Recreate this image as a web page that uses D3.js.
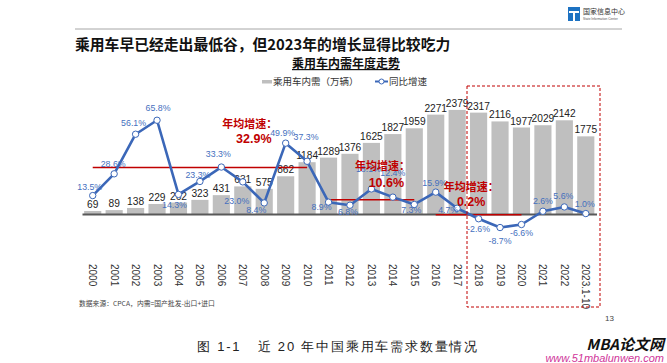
<!DOCTYPE html>
<meta charset="utf-8">
<script src="https://d3js.org/d3.v7.min.js"></script>
<style>
  body { margin: 0; background: #fff; }
  svg text { font-family: "Liberation Sans", Arial, sans-serif; }
  svg .cjk { font-family: "Noto Sans CJK SC", sans-serif; }
</style>
<div id="chart"></div>
<script>

// data
const years = ["2000","2001","2002","2003","2004","2005","2006","2007","2008","2009","2010","2011",
  "2012","2013","2014","2015","2016","2017","2018","2019","2020","2021","2022","2023.1-10"];
const demand = [69,89,138,229,262,323,431,631,575,862,1184,1289,1376,1625,1827,1959,2271,2379,2317,2116,1977,2029,2142,1775];
const growth = [13.5,28.6,56.1,65.8,14.3,23.3,33.3,23.0,8.4,49.9,37.3,8.9,6.8,18.1,12.4,7.3,15.9,4.7,-2.6,-8.7,-6.6,2.6,5.6,1.0];

// average growth per period
const avgFrom = ["2000","2011","2016"];
const avgTo = ["2010","2015","2020"];
const avgRate = [32.9,10.6,0.2];

// where each growth label sits relative to its point [dx, dy]
const labelNudge = [[-3,-6],[-1,-7],[-2,-8],[1,-9],[-4,14],[-2,-3],[-3,-10],[-6,22],[-8,10],[-3,-7],[-1,-21],
  [-7,8],[-2,10],[-3,-17],[0,-21],[-3,9],[-1,-6],[-9,5],[0,13],[0,16],[0,11],[0,-7],[-1,-8],[-1,-7]];

const W = 667, H = 363;
const svg = d3.select("#chart").append("svg")
    .attr("width", W).attr("height", H);

const blue = "#3b67b8", red = "#c00000";

// header
const logo = svg.append("g").attr("transform", "translate(568,7)");
logo.append("rect").attr("width", 12).attr("height", 14).attr("fill", "#1d72c2");
logo.append("rect").attr("x", 1).attr("y", 4).attr("width", 10).attr("height", 2).attr("fill", "#fff");
logo.append("rect").attr("x", 5).attr("y", 6).attr("width", 2).attr("height", 8).attr("fill", "#fff");
logo.append("text").attr("class", "cjk").attr("x", 15).attr("y", 7)
    .attr("font-size", 7).attr("fill", "#333").text("国家信息中心");
logo.append("text").attr("x", 15).attr("y", 13)
    .attr("font-size", 3.2).attr("fill", "#555").text("State Information Center");

svg.append("line").attr("x1", 75).attr("x2", 622).attr("y1", 29).attr("y2", 29)
    .attr("stroke", "#a6a6a6").attr("stroke-width", 1);

svg.append("text").attr("class", "cjk")
    .attr("x", 75).attr("y", 50)
    .attr("font-size", 14.8).attr("font-weight", 700).attr("fill", "#111")
    .text("乘用车早已经走出最低谷，但2023年的增长显得比较吃力");

svg.append("text").attr("class", "cjk")
    .attr("x", 346).attr("y", 68).attr("text-anchor", "middle")
    .attr("font-size", 12).attr("font-weight", 700).attr("fill", "#111")
    .attr("text-decoration", "underline")
    .text("乘用车内需年度走势");

// legend
const lg = svg.append("g");
lg.append("rect").attr("x", 262).attr("y", 80).attr("width", 10).attr("height", 3.5).attr("fill", "#bfbfbf");
lg.append("text").attr("class", "cjk").attr("x", 273).attr("y", 85)
    .attr("font-size", 9.5).attr("fill", "#333").text("乘用车内需（万辆）");
lg.append("line").attr("x1", 375).attr("x2", 388).attr("y1", 81.5).attr("y2", 81.5)
    .attr("stroke", blue).attr("stroke-width", 2);
lg.append("circle").attr("cx", 381.5).attr("cy", 81.5).attr("r", 2.5)
    .attr("fill", "#fff").attr("stroke", blue);
lg.append("text").attr("class", "cjk").attr("x", 389).attr("y", 85)
    .attr("font-size", 9.5).attr("fill", "#333").text("同比增速");

// scales
const x = d3.scaleBand().domain(years).range([82, 596.5])
    .paddingInner(0.2).paddingOuter(0.1);
const cx = d => x(d) + x.bandwidth() / 2;
const yBar = d3.scaleLinear().domain([0, 2400]).range([214, 109]);
const yRate = d3.scaleLinear().domain([-10, 70]).range([229.4, 114.2]);

// bars
svg.append("g").selectAll("rect")
  .data(years)
  .join("rect")
    .attr("x", d => x(d))
    .attr("y", (d, i) => yBar(demand[i]))
    .attr("width", x.bandwidth())
    .attr("height", (d, i) => yBar(0) - yBar(demand[i]))
    .attr("fill", "#bfbfbf");

// bar values
svg.append("g").selectAll("text")
  .data(years)
  .join("text")
    .attr("x", d => cx(d))
    .attr("y", (d, i) => yBar(demand[i]) - 3)
    .attr("text-anchor", "middle")
    .attr("font-size", 10.2)
    .attr("fill", "#222")
    .text((d, i) => demand[i]);

// x axis
const ax = svg.append("g")
    .attr("transform", `translate(0,${yBar(0)})`)
    .call(d3.axisBottom(x).tickSize(0).tickSizeOuter(0));
ax.select(".domain").attr("stroke", "#595959").attr("stroke-width", 2);
ax.selectAll("text")
    .attr("x", 0).attr("y", 0).attr("dy", "0.35em")
    .attr("transform", "translate(0,50) rotate(90)")
    .style("text-anchor", "start")
    .attr("font-size", 10)
    .attr("font-family", "Liberation Sans, Arial, sans-serif")
    .attr("fill", "#333");

// average lines
avgRate.forEach((r, k) => {
  svg.append("line")
    .attr("x1", cx(avgFrom[k])).attr("x2", cx(avgTo[k]))
    .attr("y1", yRate(r)).attr("y2", yRate(r))
    .attr("stroke", red).attr("stroke-width", 1.5);
});

// growth line
svg.append("path")
    .datum(growth)
    .attr("fill", "none")
    .attr("stroke", blue)
    .attr("stroke-width", 2.6)
    .attr("stroke-linejoin", "round")
    .attr("d", d3.line().x((d, i) => cx(years[i])).y(d => yRate(d)));

svg.append("g").selectAll("circle")
  .data(growth)
  .join("circle")
    .attr("cx", (d, i) => cx(years[i]))
    .attr("cy", d => yRate(d))
    .attr("r", 3.2)
    .attr("fill", "#fff")
    .attr("stroke", blue)
    .attr("stroke-width", 1);

svg.append("g").selectAll("text")
  .data(growth)
  .join("text")
    .attr("x", (d, i) => cx(years[i]) + labelNudge[i][0])
    .attr("y", (d, i) => yRate(d) + labelNudge[i][1])
    .attr("text-anchor", "middle")
    .attr("font-size", 8.8)
    .attr("fill", "#4570be")
    .text(d => d.toFixed(1) + "%");

// average notes
const noteAt = ["2007","2013","2017"];
const noteDx = [7, 11, 14];
avgRate.forEach((r, k) => {
  const nx = cx(noteAt[k]) + noteDx[k];
  const ny = yRate(r);
  svg.append("text").attr("class", "cjk")
    .attr("x", nx).attr("y", ny - (k === 0 ? 40 : k === 1 ? 30 : 24))
    .attr("text-anchor", "middle")
    .attr("font-size", 11).attr("font-weight", 700).attr("fill", red)
    .text("年均增速：");
  svg.append("text")
    .attr("x", nx + (k === 2 ? 0 : 4)).attr("y", ny - (k === 0 ? 25 : k === 1 ? 13 : 9))
    .attr("text-anchor", "middle")
    .attr("font-size", 12.5).attr("font-weight", 700).attr("fill", red)
    .text(r.toFixed(1) + "%");
});

// highlight box
svg.append("rect")
    .attr("x", 467).attr("y", 86).attr("width", 133).attr("height", 221)
    .attr("fill", "none").attr("stroke", red).attr("stroke-width", 1)
    .attr("stroke-dasharray", "3,2");

// footnote, page number, caption
svg.append("text").attr("class", "cjk")
    .attr("x", 79).attr("y", 306).attr("font-size", 6.8).attr("fill", "#444")
    .text("数据来源：CPCA，内需=国产批发-出口+进口");
svg.append("text").attr("x", 605).attr("y", 321).attr("font-size", 8).attr("fill", "#444").text("13");

svg.append("text")
    .attr("x", 197).attr("y", 351).attr("font-size", 13).attr("font-weight", 300)
    .attr("font-family", "DejaVu Serif, Noto Sans CJK SC, serif")
    .attr("letter-spacing", 1.8).attr("fill", "#222")
    .style("white-space", "pre")
    .text("图 1-1   近 20 年中国乘用车需求数量情况");

svg.append("text").attr("class", "cjk")
    .attr("x", 664).attr("y", 350).attr("text-anchor", "end")
    .attr("font-size", 15).attr("font-weight", 700).attr("font-style", "italic").attr("fill", "#111")
    .text("MBA论文网");
svg.append("text")
    .attr("x", 664).attr("y", 362).attr("text-anchor", "end")
    .attr("font-size", 11).attr("font-style", "italic").attr("fill", "#d0359a")
    .text("www.51mbalunwen.com");

</script>
